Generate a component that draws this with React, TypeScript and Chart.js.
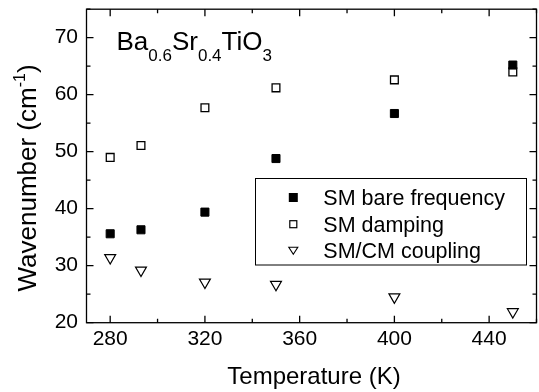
import React, { useEffect, useRef } from "react";
import { Chart, registerables } from "chart.js";

Chart.register(...registerables);

const temperatures = [280, 293, 320, 350, 400, 450];
const bareFrequency = [35.6, 36.3, 39.4, 48.8, 56.7, 65.2];
const damping = [49.0, 51.1, 57.7, 61.2, 62.6, 64.0];
const coupling = [31.4, 29.2, 27.1, 26.7, 24.5, 21.9];
const xTickValues = [280, 320, 360, 400, 440];
const xMinorValues = [300, 340, 380, 420, 460];
const yTickValues = [20, 30, 40, 50, 60, 70];
const yMinorValues = [25, 35, 45, 55, 65, 75];
const seriesLabels = ["SM bare frequency", "SM damping", "SM/CM coupling"];
const xTitle = "Temperature (K)";
const yTitleMain = "Wavenumber (cm";
const yTitleSup = "-1";
const yTitleEnd = ")";
const formulaParts: [string, boolean][] = [
  ["Ba", false],
  ["0.6", true],
  ["Sr", false],
  ["0.4", true],
  ["TiO", false],
  ["3", true],
];

const FONT = "'Liberation Sans', Arial, Helvetica, sans-serif";

const framePlugin = {
  id: "framePlugin",
  afterDraw(chart: any) {
    const ctx = chart.ctx as CanvasRenderingContext2D;
    const { left, right, top, bottom } = chart.chartArea;
    const xs = chart.scales.x;
    const ys = chart.scales.y;
    ctx.save();
    ctx.strokeStyle = "#000";
    ctx.lineWidth = 1.3;
    ctx.strokeRect(left, top, right - left, bottom - top);
    const major = 7;
    const minor = 4;
    ctx.beginPath();
    const xt = (v: number, len: number) => {
      const px = xs.getPixelForValue(v);
      if (px < left - 0.5 || px > right + 0.5) return;
      ctx.moveTo(px, bottom);
      ctx.lineTo(px, bottom - len);
      ctx.moveTo(px, top);
      ctx.lineTo(px, top + len);
    };
    const yt = (v: number, len: number) => {
      const py = ys.getPixelForValue(v);
      if (py < top - 0.5 || py > bottom + 0.5) return;
      ctx.moveTo(left, py);
      ctx.lineTo(left + len, py);
      ctx.moveTo(right, py);
      ctx.lineTo(right - len, py);
    };
    xTickValues.forEach((v) => xt(v, major));
    xMinorValues.forEach((v) => xt(v, minor));
    yTickValues.forEach((v) => yt(v, major));
    yMinorValues.forEach((v) => yt(v, minor));
    ctx.stroke();

    // axis titles
    ctx.fillStyle = "#000";
    ctx.font = `24px ${FONT}`;
    ctx.textAlign = "center";
    ctx.textBaseline = "alphabetic";
    ctx.fillText(xTitle, 314, 384);

    // y title rotated with superscript
    ctx.save();
    ctx.translate(36, 178);
    ctx.rotate(-Math.PI / 2);
    ctx.textAlign = "left";
    ctx.font = `26px ${FONT}`;
    const wMain = ctx.measureText(yTitleMain).width;
    const wEnd = ctx.measureText(yTitleEnd).width;
    ctx.font = `16px ${FONT}`;
    const wSup = ctx.measureText(yTitleSup).width;
    const total = wMain + wSup + wEnd;
    let cx = -total / 2;
    ctx.font = `26px ${FONT}`;
    ctx.fillText(yTitleMain, cx, 0);
    cx += wMain;
    ctx.font = `16px ${FONT}`;
    ctx.fillText(yTitleSup, cx, -11);
    cx += wSup;
    ctx.font = `26px ${FONT}`;
    ctx.fillText(yTitleEnd, cx, 0);
    ctx.restore();

    // formula
    let fx = 116.5;
    ctx.textAlign = "left";
    formulaParts.forEach(([t, sub]) => {
      ctx.font = sub ? `17px ${FONT}` : `26px ${FONT}`;
      ctx.fillText(t, fx, sub ? 61 : 50);
      fx += ctx.measureText(t).width;
    });

    // legend
    const lx = 255.5, ly = 178.5, lw = 271, lh = 86.5;
    ctx.fillStyle = "#fff";
    ctx.fillRect(lx, ly, lw, lh);
    ctx.lineWidth = 1;
    ctx.strokeStyle = "#000";
    ctx.strokeRect(lx, ly, lw, lh);
    const rows = [205, 231.7, 258.3];
    const mx = 293.3;
    ctx.font = `21.5px ${FONT}`;
    rows.forEach((by, i) => {
      ctx.fillStyle = "#000";
      ctx.fillText(seriesLabels[i], 323.3, by);
      const my = by - 7.5;
      if (i === 0) {
        ctx.fillRect(mx - 4.5, my - 4.5, 9, 9);
      } else if (i === 1) {
        ctx.lineWidth = 1.2;
        ctx.strokeRect(mx - 3.5, my - 3.5, 7, 7);
      } else {
        ctx.lineWidth = 1.1;
        ctx.beginPath();
        ctx.moveTo(mx - 4.5, my - 3.5);
        ctx.lineTo(mx + 4.5, my - 3.5);
        ctx.lineTo(mx, my + 3.5);
        ctx.closePath();
        ctx.stroke();
      }
    });
    ctx.restore();
  },
};

export default function App() {
  const ref = useRef<HTMLCanvasElement | null>(null);
  useEffect(() => {
    document.body.style.margin = "0";
    document.body.style.overflow = "hidden";
    const canvas = ref.current!;
    const toPts = (ys: number[]) => temperatures.map((t, i) => ({ x: t, y: ys[i] }));
    const chart = new Chart(canvas, {
      type: "scatter",
      data: {
        datasets: [
          {
            label: seriesLabels[0],
            data: toPts(bareFrequency),
            pointStyle: "rect",
            pointRadius: 5.7,
            backgroundColor: "#000",
            borderColor: "#000",
            borderWidth: 1,
          },
          {
            label: seriesLabels[1],
            data: toPts(damping),
            pointStyle: "rect",
            pointRadius: 5.5,
            backgroundColor: "#fff",
            borderColor: "#000",
            borderWidth: 1.3,
          },
          {
            label: seriesLabels[2],
            data: toPts(coupling),
            pointStyle: "triangle",
            rotation: 180,
            pointRadius: 6.3,
            backgroundColor: "#fff",
            borderColor: "#000",
            borderWidth: 1.2,
          } as any,
        ],
      },
      options: {
        responsive: false,
        animation: false,
        events: [],
        layout: { padding: { top: 9.2, right: 2, left: 0, bottom: 0 } },
        plugins: { legend: { display: false }, tooltip: { enabled: false } },
        scales: {
          x: {
            type: "linear",
            min: 270,
            max: 460,
            grid: { display: false, drawTicks: false },
            border: { display: false },
            ticks: {
              color: "#000",
              font: { family: FONT, size: 21 },
              padding: 4,
              maxRotation: 0,
            },
            afterBuildTicks: (s: any) => {
              s.ticks = xTickValues.map((v) => ({ value: v }));
            },
            afterFit: (s: any) => {
              s.height = 69.3;
              s.paddingLeft = 0;
              s.paddingRight = 0;
            },
          },
          y: {
            type: "linear",
            min: 20,
            max: 75,
            grid: { display: false, drawTicks: false },
            border: { display: false },
            ticks: {
              color: "#000",
              font: { family: FONT, size: 21 },
              padding: 8.5,
            },
            afterBuildTicks: (s: any) => {
              s.ticks = yTickValues.map((v) => ({ value: v }));
            },
            afterFit: (s: any) => {
              s.width = 86.5;
              s.paddingTop = 0;
              s.paddingBottom = 0;
            },
          },
        },
      },
      plugins: [framePlugin],
    });
    return () => chart.destroy();
  }, []);
  return (
    <div style={{ position: "relative", width: 539, height: 392, overflow: "hidden", background: "#fff" }}>
      <canvas ref={ref} width={544} height={392} style={{ width: 544, height: 392, display: "block" }} />
    </div>
  );
}
